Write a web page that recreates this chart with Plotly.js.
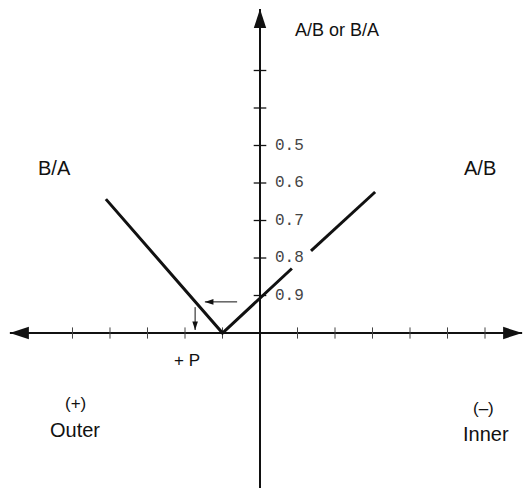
<!DOCTYPE html>
<html>
<head>
<meta charset="utf-8">
<script src="https://cdn.plot.ly/plotly-3.0.1.min.js"></script>
<style>html,body{margin:0;padding:0;background:#fff;}#chart{width:523px;height:488px;}</style>
</head>
<body>
<div id="chart"></div>
<script>
// ---- data ----
const yTickValues = [1, 2, 3, 4, 5, 6, 7];
const yTickLabels = ['0.9', '0.8', '0.7', '0.6', '0.5', '', ''];
const xTickValues = [-5, -4, -3, -2, -1, 1, 2, 3, 4, 5, 6];
// V-shaped response line (gap where the 0.8 label sits)
const vLineX = [-4.11, -1.0, 0.85, null, 1.36, 3.07];
const vLineY = [3.57, 0.0, 1.72, null, 2.19, 3.76];
// axes extents
const xAxisEnds = [-6.67, 6.99];
const yAxisEnds = [-4.2, 8.64];
// small shift arrows
const shiftArrowH_X = [-0.61, -1.47];
const shiftArrowH_Y = [0.83, 0.83];
const shiftArrowV_X = [-1.73, -1.73];
const shiftArrowV_Y = [0.69, 0.08];

const BLACK = '#111';
const traces = [];

// horizontal axis
traces.push({x: xAxisEnds, y: [0, 0], mode: 'lines', line: {color: BLACK, width: 2}, hoverinfo: 'skip'});
// vertical axis
traces.push({x: [0, 0], y: yAxisEnds, mode: 'lines', line: {color: BLACK, width: 2}, hoverinfo: 'skip'});
// axis arrowheads
traces.push({
  x: [0, xAxisEnds[0], xAxisEnds[1]],
  y: [yAxisEnds[1], 0, 0],
  mode: 'markers',
  marker: {symbol: 'arrow', size: 20, angle: [0, -90, 90], color: BLACK, line: {width: 0}},
  hoverinfo: 'skip'
});
// tick marks on vertical axis
traces.push({
  x: yTickValues.map(() => 0), y: yTickValues, mode: 'markers',
  marker: {symbol: 'line-ew', size: 9, line: {color: BLACK, width: 1.3}},
  hoverinfo: 'skip'
});
// tick marks on horizontal axis
traces.push({
  x: xTickValues, y: xTickValues.map(() => 0), mode: 'markers',
  marker: {symbol: 'line-ns', size: 8, line: {color: '#444', width: 1}},
  hoverinfo: 'skip'
});
// tick labels
traces.push({
  x: yTickValues.map(() => 0.4), y: yTickValues, mode: 'text',
  text: yTickLabels, textposition: 'middle right',
  textfont: {family: 'Liberation Mono, DejaVu Sans Mono, monospace', size: 16, color: '#444'},
  hoverinfo: 'skip'
});
// V line
traces.push({x: vLineX, y: vLineY, mode: 'lines', line: {color: BLACK, width: 3}, connectgaps: false, hoverinfo: 'skip'});
// small shift arrows
traces.push({x: shiftArrowH_X, y: shiftArrowH_Y, mode: 'lines', line: {color: BLACK, width: 1}, hoverinfo: 'skip'});
traces.push({x: shiftArrowV_X, y: shiftArrowV_Y, mode: 'lines', line: {color: BLACK, width: 1}, hoverinfo: 'skip'});
traces.push({
  x: [shiftArrowH_X[1], shiftArrowV_X[1]], y: [shiftArrowH_Y[1], shiftArrowV_Y[1]],
  mode: 'markers',
  marker: {symbol: 'arrow', size: 9, angle: [-90, 180], color: BLACK, line: {width: 0}},
  hoverinfo: 'skip'
});

const F = 'Liberation Sans, Arial, Helvetica, sans-serif';
function lab(text, x, y, size, xanchor) {
  return {text: text, x: x, y: y, xref: 'x', yref: 'y', showarrow: false,
          xanchor: xanchor || 'center', yanchor: 'middle',
          font: {family: F, size: size, color: BLACK}};
}

const layout = {
  width: 523, height: 488,
  margin: {l: 0, r: 0, t: 0, b: 0},
  paper_bgcolor: '#fff', plot_bgcolor: '#fff',
  showlegend: false,
  xaxis: {range: [-6.933, 7.013], visible: false, fixedrange: true},
  yaxis: {range: [-4.133, 8.88], visible: false, fixedrange: true},
  annotations: [
    lab('A/B or B/A', 0.88, 8.08, 18, 'left'),
    lab('B/A', -5.47, 4.4, 20),
    lab('A/B', 5.87, 4.4, 20),
    lab('+ P', -1.95, -0.72, 17),
    lab('(+)', -4.93, -1.89, 17),
    lab('Outer', -4.93, -2.59, 20),
    lab('(–)', 5.95, -2.0, 17),
    lab('Inner', 6.03, -2.69, 20)
  ]
};

Plotly.newPlot('chart', traces, layout, {staticPlot: true, displayModeBar: false});
</script>
</body>
</html>
